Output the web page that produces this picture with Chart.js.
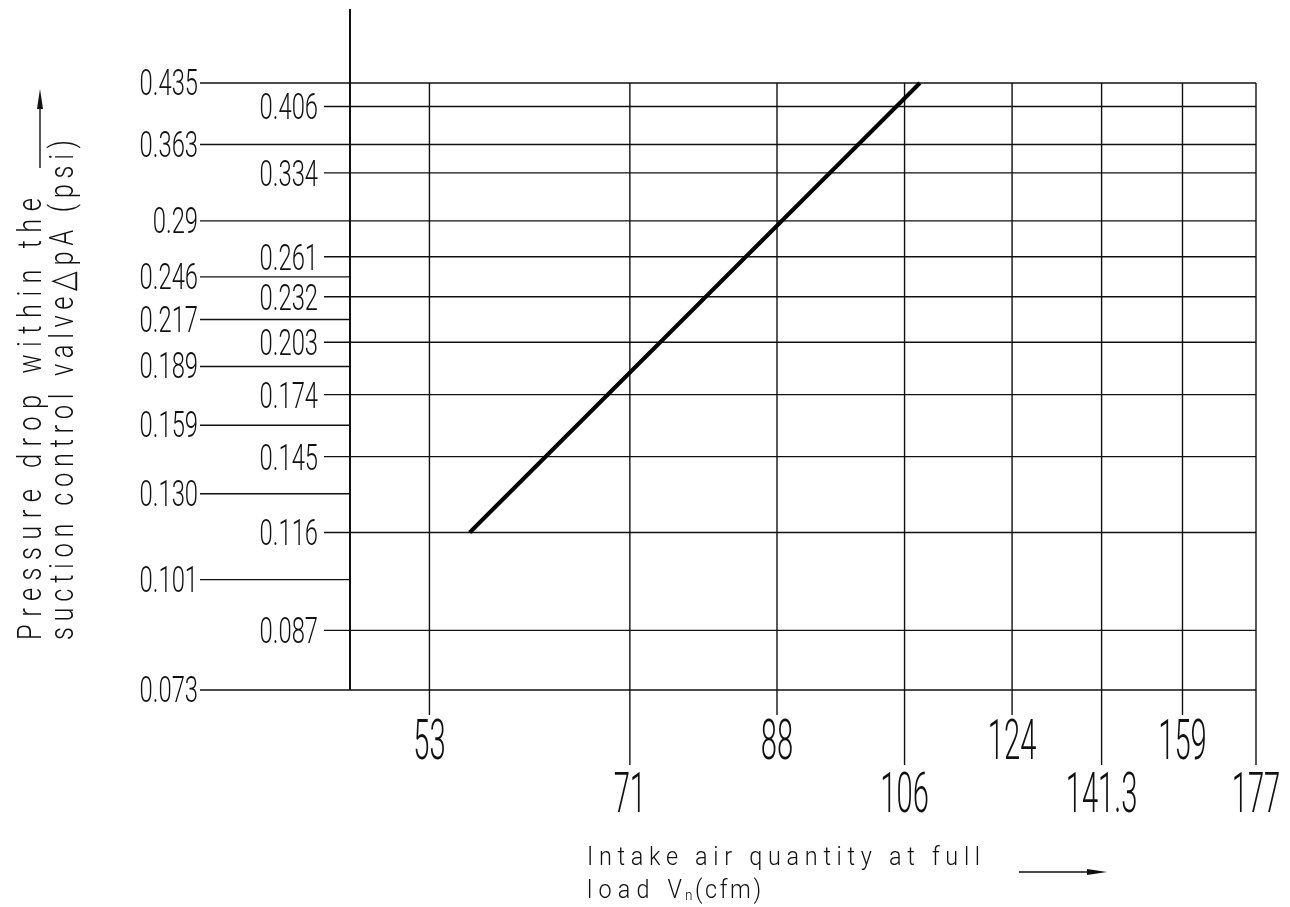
<!DOCTYPE html>
<html>
<head>
<meta charset="utf-8">
<title>Pressure drop within the suction control valve</title>
<script src="https://cdn.jsdelivr.net/npm/chart.js@4.4.1/dist/chart.umd.min.js"></script>
<style>
  html, body { margin: 0; padding: 0; background: #fff; overflow: hidden; }
  canvas { display: block; }
</style>
</head>
<body>
<canvas id="chart" width="1290" height="907"></canvas>
<script>
// x = intake air quantity (cfm), y = pressure drop (psi), both logarithmic
const xTicksUpper = [53, 88, 124, 159];
const xTicksLower = [71, 106, 141.3, 177];
const xMin = 47.2, xMax = 177;

const yLabelsLeft = ["0.435", "0.363", "0.29", "0.246", "0.217", "0.189", "0.159", "0.130", "0.101", "0.073"];
const yLabelsLeftFull = ["0.435", "0.363", "0.29", "0.073"];   // these ones run through the grid
const yLabelsRight = ["0.406", "0.334", "0.261", "0.232", "0.203", "0.174", "0.145", "0.116", "0.087"];
const yMin = 0.073, yMax = 0.435;

const airflow = [56.2, 108.4];
const pressureDrop = [0.116, 0.435];

const yTitle = ["Pressure drop within the", "suction control valve\u25B3pA (psi)"];
const xTitle = "Intake air quantity at full";
const xTitle2 = ["load V", "n", "(cfm)"];

const INK = "#111";
const FONT = "Roboto";

// text helper: sx squeezes glyphs, width (optional) spreads letters to a given length
function txt(ctx, s, x, y, o) {
  ctx.save();
  ctx.font = (o.weight || 300) + " " + o.size + "px " + FONT;
  ctx.fillStyle = INK;
  ctx.translate(x, y);
  if (o.rot) ctx.rotate(o.rot);
  const sx = o.sx || 1;
  ctx.scale(sx, 1);
  if (o.width) {
    ctx.letterSpacing = "0px";
    const w = ctx.measureText(s).width;
    const ls = (o.width / sx - w) / Math.max(1, s.length - 1);
    ctx.letterSpacing = ls.toFixed(2) + "px";
  }
  ctx.textAlign = o.align || "left";
  ctx.textBaseline = "alphabetic";
  ctx.fillText(s, 0, 0);
  ctx.restore();
}

function seg(ctx, x0, y0, x1, y1) {
  ctx.beginPath();
  ctx.moveTo(x0, y0);
  ctx.lineTo(x1, y1);
  ctx.stroke();
}

function arrow(ctx, x0, y0, x1, y1) {
  const a = Math.atan2(y1 - y0, x1 - x0), L = 20, W = 3;
  const c = Math.cos(a), s = Math.sin(a);
  seg(ctx, x0, y0, x1 - L * c, y1 - L * s);
  ctx.beginPath();
  ctx.moveTo(x1, y1);
  ctx.lineTo(x1 - L * c + W * s, y1 - L * s - W * c);
  ctx.lineTo(x1 - L * c - W * s, y1 - L * s + W * c);
  ctx.closePath();
  ctx.fill();
}

const drawingFrame = {
  id: "drawingFrame",
  beforeDatasetsDraw(chart) {
    const { ctx, chartArea: a, scales: { x, y } } = chart;
    ctx.save();
    ctx.strokeStyle = INK;
    ctx.fillStyle = INK;
    ctx.lineWidth = 1.4;

    // horizontal lines + labels, left column
    yLabelsLeft.forEach(l => {
      const py = y.getPixelForValue(parseFloat(l));
      seg(ctx, 200, py, yLabelsLeftFull.includes(l) ? a.right : a.left, py);
      txt(ctx, l, 198, py + 12, { size: 36, sx: 0.66, align: "right" });
    });
    // right column
    yLabelsRight.forEach(l => {
      const py = y.getPixelForValue(parseFloat(l));
      seg(ctx, 324, py, a.right, py);
      txt(ctx, l, 318, py + 13, { size: 36, sx: 0.66, align: "right" });
    });

    // vertical lines, staggered tick labels
    xTicksUpper.forEach(v => {
      const px = x.getPixelForValue(v);
      seg(ctx, px, a.top, px, 715);
      txt(ctx, String(v), px, 759, { size: 55, sx: 0.53, align: "center" });
    });
    xTicksLower.forEach(v => {
      const px = x.getPixelForValue(v);
      seg(ctx, px, a.top, px, 765);
      txt(ctx, String(v), px, 812, { size: 55, sx: 0.53, align: "center" });
    });

    // y axis
    ctx.lineWidth = 2;
    seg(ctx, a.left, 9, a.left, a.bottom);

    // axis titles
    ctx.lineWidth = 1.4;
    txt(ctx, yTitle[0], 41, 640, { size: 34, sx: 0.75, rot: -Math.PI / 2, width: 442 });
    txt(ctx, yTitle[1], 73, 640, { size: 34, sx: 0.75, rot: -Math.PI / 2, width: 500 });
    arrow(ctx, 40, 168, 40, 89);

    txt(ctx, xTitle, 587, 865, { size: 26, sx: 0.9, width: 393 });
    txt(ctx, xTitle2[0], 587, 898, { size: 26, sx: 0.9, width: 95 });
    txt(ctx, xTitle2[1], 685, 900, { size: 15, sx: 0.9 });
    txt(ctx, xTitle2[2], 695, 898, { size: 26, sx: 0.9, width: 66 });
    arrow(ctx, 1019, 872, 1107, 872);

    ctx.restore();
  }
};

new Chart(document.getElementById("chart"), {
  type: "line",
  data: {
    datasets: [{
      data: airflow.map((v, i) => ({ x: v, y: pressureDrop[i] })),
      borderColor: "#000",
      borderWidth: 4,
      borderCapStyle: "butt",
      pointRadius: 0,
      tension: 0,
      fill: false,
      clip: 6
    }]
  },
  options: {
    responsive: false,
    animation: false,
    events: [],
    layout: { padding: { left: 350, right: 34, top: 83, bottom: 217 } },
    plugins: { legend: { display: false }, tooltip: { enabled: false } },
    scales: {
      x: { type: "logarithmic", min: xMin, max: xMax, bounds: "data", display: false },
      y: { type: "logarithmic", min: yMin, max: yMax, bounds: "data", display: false }
    }
  },
  plugins: [drawingFrame]
});
</script>
</body>
</html>
